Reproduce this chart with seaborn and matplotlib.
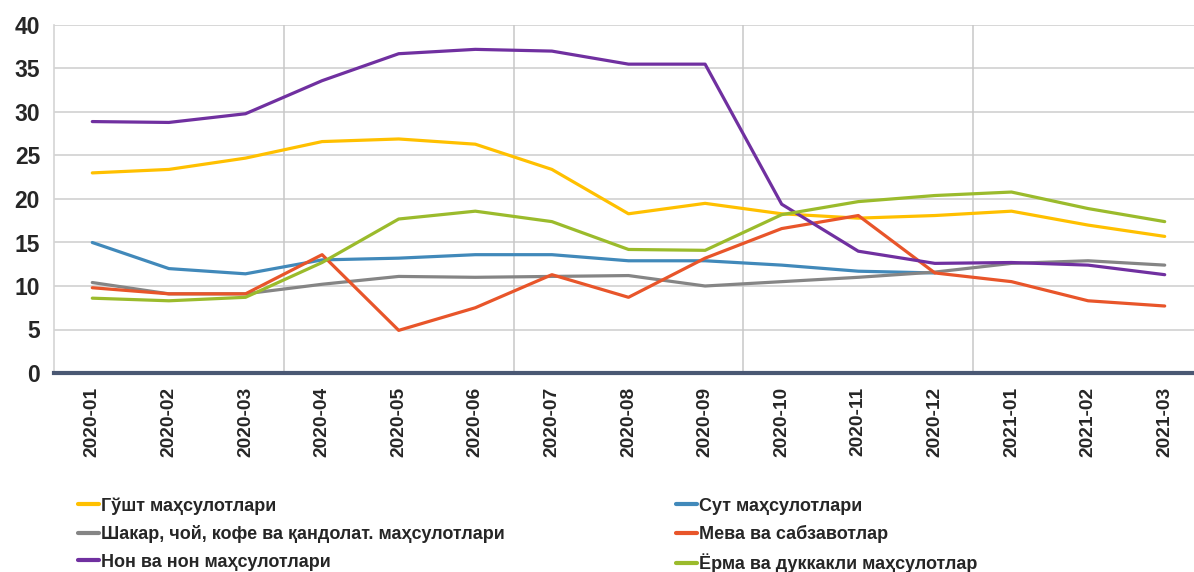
import matplotlib
matplotlib.use("Agg")
import matplotlib.pyplot as plt
import seaborn as sns
import numpy as np
import pandas as pd

# ---------------- data ----------------
months = ["2020-01", "2020-02", "2020-03", "2020-04", "2020-05", "2020-06", "2020-07",
          "2020-08", "2020-09", "2020-10", "2020-11", "2020-12", "2021-01", "2021-02", "2021-03"]

gosht = [23.0, 23.4, 24.7, 26.6, 26.9, 26.3, 23.4, 18.3, 19.5, 18.3, 17.8, 18.1, 18.6, 17.0, 15.7]
sut = [15.0, 12.0, 11.4, 13.0, 13.2, 13.6, 13.6, 12.9, 12.9, 12.4, 11.7, 11.5, np.nan, np.nan, np.nan]
shakar = [10.4, 9.1, 9.1, 10.2, 11.1, 11.0, 11.1, 11.2, 10.0, 10.5, 11.0, 11.6, 12.6, 12.9, 12.4]
meva = [9.8, 9.1, 9.1, 13.6, 4.9, 7.5, 11.3, 8.7, 13.2, 16.6, 18.1, 11.5, 10.5, 8.3, 7.7]
non = [28.9, 28.8, 29.8, 33.6, 36.7, 37.2, 37.0, 35.5, 35.5, 19.4, 14.0, 12.6, 12.7, 12.4, 11.3]
yorma = [8.6, 8.3, 8.7, 12.7, 17.7, 18.6, 17.4, 14.2, 14.1, 18.2, 19.7, 20.4, 20.8, 18.9, 17.4]

names = ["Гўшт маҳсулотлари", "Сут маҳсулотлари", "Шакар, чой, кофе ва қандолат. маҳсулотлари",
         "Мева ва сабзавотлар", "Нон ва нон маҳсулотлари", "Ёрма ва дуккакли маҳсулотлар"]
colors = ["#FFC000", "#4189BA", "#858585", "#E8552A", "#7030A0", "#9BBB2C"]

series = [gosht, sut, shakar, meva, non, yorma]
df = pd.concat([pd.DataFrame({"month": months, "value": s, "name": n}) for s, n in zip(series, names)],
               ignore_index=True)

# ---------------- plot ----------------
sns.set_style("white")
plt.rcParams["font.family"] = ["Liberation Sans", "DejaVu Sans"]

fig = plt.figure(figsize=(11.94, 5.72), dpi=100)
ax = fig.add_axes([54 / 1194, 1 - 373 / 572, 1149 / 1194, 348 / 572])

sns.lineplot(data=df, x="month", y="value", hue="name", hue_order=names,
             palette=colors, linewidth=2.3, ax=ax, legend=False, sort=False)

ax.set_xlim(-0.5, 14.5)
ax.set_ylim(0, 40)
ax.set_yticks(range(0, 41, 5))
ax.set_xticks(range(len(months)))
ax.set_xticklabels(months, rotation=90, fontsize=13.8, fontweight="bold")
ax.tick_params(axis="y", labelsize=16.5, length=0, pad=10)
ax.tick_params(axis="x", length=0, pad=10)
for lbl in ax.get_yticklabels():
    lbl.set_fontweight("bold")
ax.set_xlabel("")
ax.set_ylabel("")

# grid: horizontal every 5, vertical every 3 months
ax.grid(False)
for y in range(5, 41, 5):
    ax.axhline(y, color="#d4d4d4", lw=1.3, zorder=0)
for xv in [2.5, 5.5, 8.5, 11.5]:
    ax.axvline(xv, color="#c8c8c8", lw=1.1, zorder=0)

for s in ["top", "right"]:
    ax.spines[s].set_visible(False)
ax.spines["left"].set_color("#d4d4d4")
ax.spines["left"].set_linewidth(1.2)
ax.spines["bottom"].set_color("#4a5873")
ax.spines["bottom"].set_linewidth(3)

# legend: two columns
handles = [plt.Line2D([], [], color=c, lw=3) for c in colors]
order = [0, 2, 4, 1, 3, 5]
fig.legend([handles[i] for i in order], [names[i] for i in order], ncol=2,
           loc="upper left", bbox_to_anchor=(62 / 1194, 1 - 481 / 572),
           frameon=False, handlelength=1.15, handletextpad=0.1,
           columnspacing=9.5, labelspacing=0.58,
           prop={"weight": "bold", "size": 13, "family": ["Liberation Sans", "DejaVu Sans"]})

fig.savefig("out.png", dpi=100)
